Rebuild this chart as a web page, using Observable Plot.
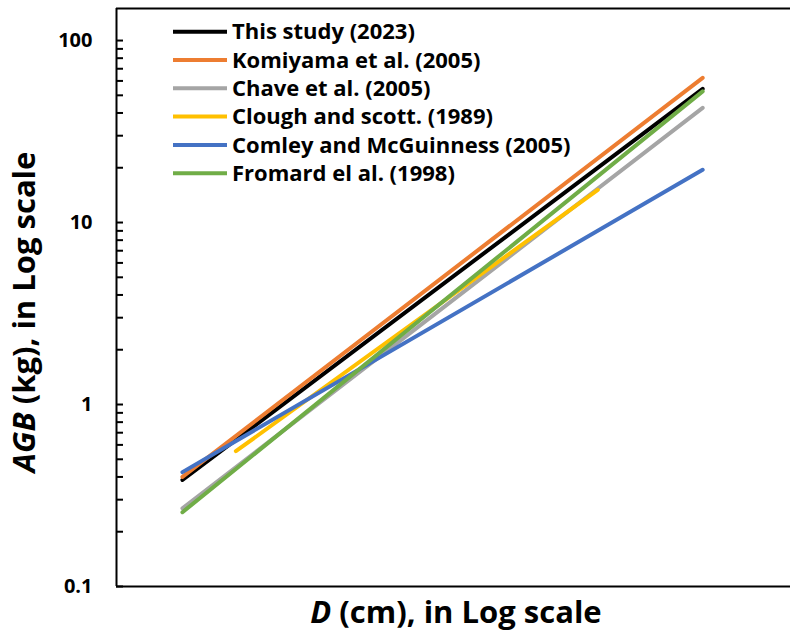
<!DOCTYPE html>
<html>
<head>
<meta charset="utf-8">
<script src="https://cdn.jsdelivr.net/npm/d3@7"></script>
<script src="https://cdn.jsdelivr.net/npm/@observablehq/plot@0.6"></script>
<style>
  html, body { margin: 0; padding: 0; background: #fff; }
  svg { display: block; }
</style>
</head>
<body>
<div id="chart"></div>
<script>
// Series (legend order)
const series = ["This study (2023)", "Komiyama et al. (2005)", "Chave et al. (2005)", "Clough and scott. (1989)", "Comley and McGuinness (2005)", "Fromard el al. (1998)"];
const colors = ["#000000", "#ED7D31", "#A5A5A5", "#FFC000", "#4472C4", "#70AD47"];
// Diameter (cm) at start / end of each allometric line
const dStart = [1.4, 1.4, 1.4, 1.73, 1.4, 1.4];
const dEnd = [11, 11, 11, 7.26, 11, 11];
// AGB (kg) at start / end
const agbStart = [0.385, 0.40, 0.269, 0.554, 0.425, 0.256];
const agbEnd = [54.3, 62.4, 42.7, 15.1, 19.5, 52.6];
// Y tick values
const yMajor = [0.1, 1, 10, 100];
const yMinor = [0.2,0.3,0.4,0.5,0.6,0.7,0.8,0.9,2,3,4,5,6,7,8,9,20,30,40,50,60,70,80,90];

const rows = [];
series.forEach((s, i) => {
  rows.push({series: s, D: dStart[i], AGB: agbStart[i], order: i});
  rows.push({series: s, D: dEnd[i], AGB: agbEnd[i], order: i});
});

const FONT = "'Open Sans', 'Noto Sans', sans-serif";
const xDomain = [1.078, 15.58];
const yDomain = [0.1, 150];

const chart = Plot.plot({
  width: 790,
  height: 637,
  marginLeft: 116,
  marginRight: 0,
  marginTop: 8,
  marginBottom: 51,
  style: {fontFamily: FONT, background: "#fff"},
  x: {type: "log", domain: xDomain, axis: null},
  y: {type: "log", domain: yDomain, axis: null},
  color: {domain: series, range: colors},
  marks: [
    ...series.map((s, i) => Plot.line(rows.filter(r => r.order === i), {
      x: "D", y: "AGB", stroke: colors[i], strokeWidth: 4, strokeLinecap: "round"
    })),
    Plot.axisY([...yMajor, ...yMinor], {anchor: "left", tickSize: 7, dx: 7, tickFormat: () => "", label: null, strokeWidth: 2, stroke: "#000"}),
    Plot.axisY(yMajor, {anchor: "left", tickSize: 0, tickPadding: 24, tickFormat: d => String(d), label: null, fontSize: 20, fontWeight: "bold", fill: "#000"}),
    Plot.ruleY([yDomain[0]], {stroke: "#000", strokeWidth: 2}),
    Plot.ruleY([yDomain[1]], {stroke: "#000", strokeWidth: 2}),
    Plot.ruleX([xDomain[0]], {stroke: "#000", strokeWidth: 2})
  ]
});

document.getElementById("chart").appendChild(chart);

const svg = d3.select(chart);

// Legend
const lg = svg.append("g").attr("font-family", FONT).attr("font-weight", "bold").attr("font-size", 22).attr("text-anchor", "start");
series.forEach((s, i) => {
  const cy = 31.7 + i * 28.3;
  lg.append("line").attr("x1", 173).attr("x2", 227).attr("y1", cy).attr("y2", cy)
    .attr("stroke", colors[i]).attr("stroke-width", 4);
  lg.append("text").attr("x", 232).attr("y", cy).attr("dy", "0.35em").attr("fill", "#000").text(s);
});

// Axis titles
const xt = svg.append("text").attr("x", 456).attr("y", 623).attr("text-anchor", "middle")
  .attr("font-family", FONT).attr("font-weight", "bold").attr("font-size", 31).attr("fill", "#000");
xt.append("tspan").attr("font-style", "italic").text("D");
xt.append("tspan").text(" (cm), in Log scale");

const yt = svg.append("text").attr("transform", "translate(35,312) rotate(-90)").attr("text-anchor", "middle")
  .attr("font-family", FONT).attr("font-weight", "bold").attr("font-size", 31).attr("fill", "#000");
yt.append("tspan").attr("font-style", "italic").text("AGB");
yt.append("tspan").text(" (kg), in Log scale");
</script>
</body>
</html>
